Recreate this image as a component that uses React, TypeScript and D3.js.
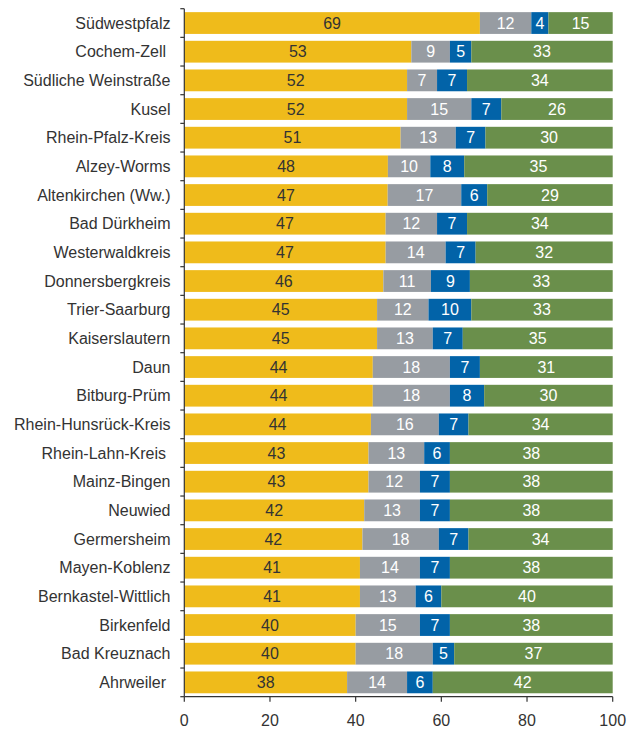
import * as d3 from "d3";
import React from "react";

const districts = [
  "Südwestpfalz", "Cochem-Zell ", "Südliche Weinstraße", "Kusel", "Rhein-Pfalz-Kreis",
  "Alzey-Worms", "Altenkirchen (Ww.)", "Bad Dürkheim", "Westerwaldkreis", "Donnersbergkreis",
  "Trier-Saarburg", "Kaiserslautern", "Daun", "Bitburg-Prüm", "Rhein-Hunsrück-Kreis",
  "Rhein-Lahn-Kreis ", "Mainz-Bingen", "Neuwied", "Germersheim", "Mayen-Koblenz",
  "Bernkastel-Wittlich", "Birkenfeld", "Bad Kreuznach", "Ahrweiler ",
];

const yellowValues = [69, 53, 52, 52, 51, 48, 47, 47, 47, 46, 45, 45, 44, 44, 44, 43, 43, 42, 42, 41, 41, 40, 40, 38];
const grayValues = [12, 9, 7, 15, 13, 10, 17, 12, 14, 11, 12, 13, 18, 18, 16, 13, 12, 13, 18, 14, 13, 15, 18, 14];
const blueValues = [4, 5, 7, 7, 7, 8, 6, 7, 7, 9, 10, 7, 7, 8, 7, 6, 7, 7, 7, 7, 6, 7, 5, 6];
const greenValues = [15, 33, 34, 26, 30, 35, 29, 34, 32, 33, 33, 35, 31, 30, 34, 38, 38, 38, 34, 38, 40, 38, 37, 42];

const xTicks = [0, 20, 40, 60, 80, 100];

const seriesColors = ["#efbb1b", "#979ca2", "#0263a8", "#6a8f4b"];
const labelColors = ["#333333", "#ffffff", "#ffffff", "#ffffff"];

const font = "'Liberation Sans', Arial, Helvetica, sans-serif";

const App: React.FC = () => {
  const width = 634;
  const height = 729;
  const left = 184.3;
  const right = 612.7;
  const top = 8.7;
  const bottom = 696.7;

  const x = d3.scaleLinear().domain([0, 100]).range([left, right]);
  const y = d3.scaleBand<string>().domain(districts).range([top, bottom]).paddingInner(0.24).paddingOuter(0.12);
  const step = y.step();

  const series = [yellowValues, grayValues, blueValues, greenValues];

  // rounded shares don't always sum to 100, so normalise each row
  const rows = districts.map((name, i) => {
    const vals = series.map(s => s[i]);
    const total = d3.sum(vals);
    let acc = 0;
    const segs = vals.map((v, k) => {
      const x0 = (acc / total) * 100;
      acc += v;
      const x1 = (acc / total) * 100;
      return { v, k, x0, x1 };
    });
    return { name, segs };
  });

  return (
    <svg width={width} height={height} style={{ position: "absolute", left: 0, top: 0 }} fontFamily={font}>
      {rows.map(row => (
        <g key={row.name}>
          {row.segs.map(s => (
            <rect
              key={s.k}
              x={x(s.x0)}
              y={y(row.name)!}
              width={x(s.x1) - x(s.x0)}
              height={y.bandwidth()}
              fill={seriesColors[s.k]}
            />
          ))}
          {row.segs.map(s => (
            <text
              key={"t" + s.k}
              x={(x(s.x0) + x(s.x1)) / 2}
              y={y(row.name)! + y.bandwidth() / 2}
              dy="0.36em"
              textAnchor="middle"
              fontSize={16}
              fill={labelColors[s.k]}
            >
              {s.v}
            </text>
          ))}
          <text
            x={170.5}
            y={y(row.name)! + y.bandwidth() / 2}
            dy="0.36em"
            textAnchor="end"
            fontSize={16}
            fill="#333333"
            style={{ whiteSpace: "pre" }}
          >
            {row.name}
          </text>
        </g>
      ))}
      <line x1={left} x2={left} y1={top} y2={bottom} stroke="#333" strokeWidth={1.2} />
      {d3.range(districts.length + 1).map(i => (
        <line key={"yt" + i} x1={left - 4} x2={left} y1={top + i * step} y2={top + i * step} stroke="#333" strokeWidth={1.2} />
      ))}
      <line x1={left} x2={right} y1={bottom} y2={bottom} stroke="#333" strokeWidth={1.2} />
      {xTicks.map(t => (
        <g key={"xt" + t}>
          <line x1={x(t)} x2={x(t)} y1={bottom} y2={bottom + 5} stroke="#333" strokeWidth={1.2} />
          <text x={x(t)} y={720} dy="0.36em" textAnchor="middle" fontSize={16} fill="#333333">
            {t}
          </text>
        </g>
      ))}
    </svg>
  );
};

export default App;
